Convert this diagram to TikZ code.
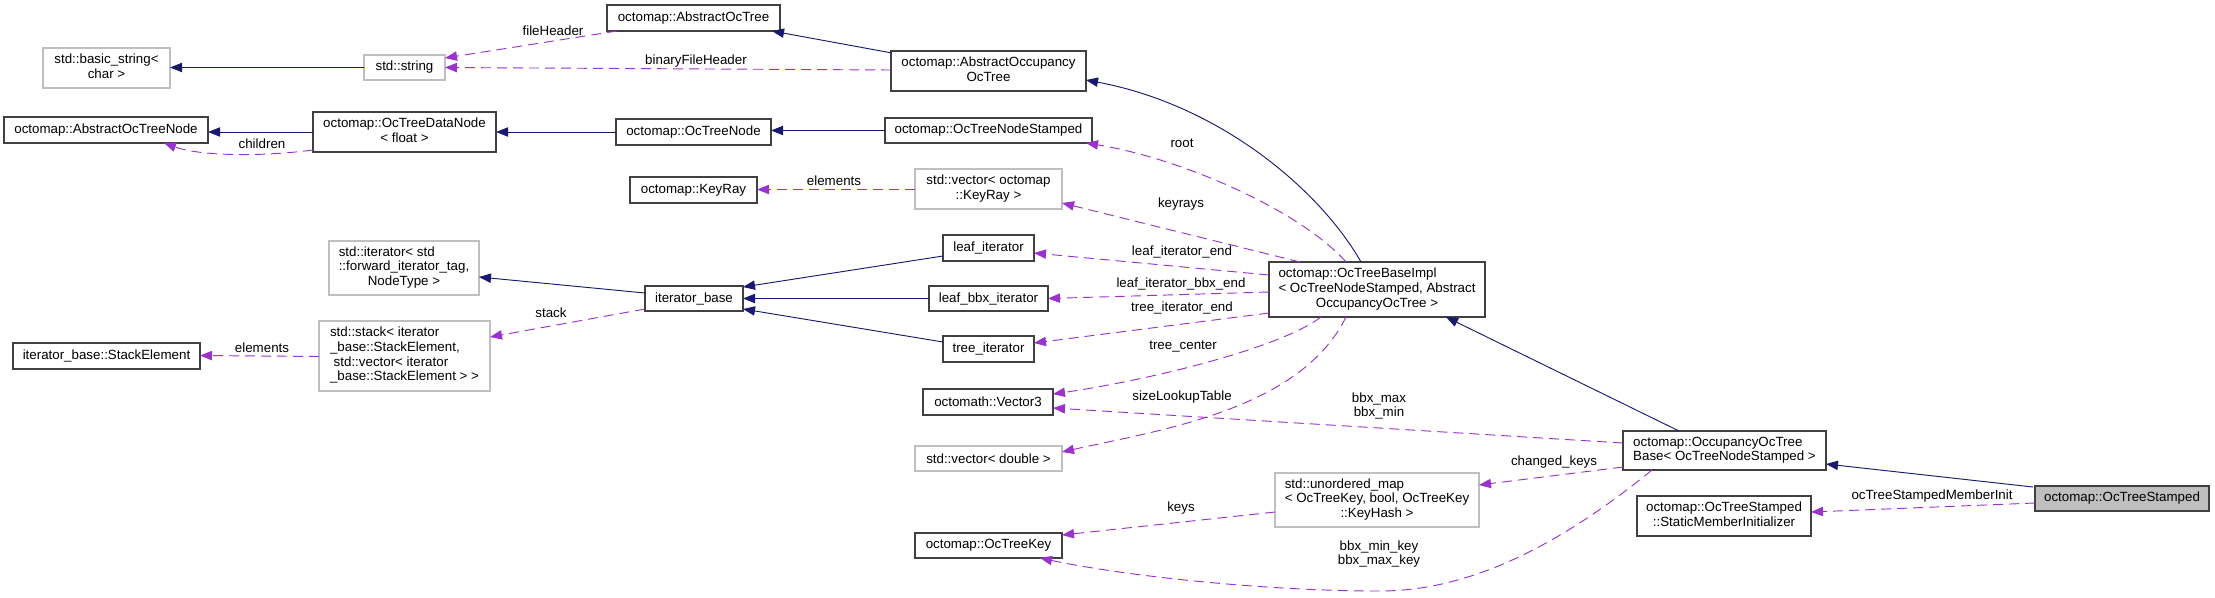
\documentclass[tikz,border=0pt]{standalone}
\usepackage{fontspec}
\setmainfont{Liberation Sans}
\usetikzlibrary{arrows.meta,calc}
\definecolor{edgeblue}{HTML}{191970}
\definecolor{edgeorchid}{HTML}{9A32CD}
\definecolor{boxdark}{HTML}{404040}
\definecolor{boxgray}{HTML}{BFBFBF}
\newcommand{\lc}[2]{\begin{tabular}{@{}l@{}}#1\\\multicolumn{1}{@{}c@{}}{#2}\end{tabular}}
\begin{document}
\begin{tikzpicture}[x=0.75pt,y=-0.75pt,
  every node/.style={font=\fontsize{10}{11}\selectfont, inner sep=0pt, outer sep=0pt},
  cls/.style n args={2}{draw=boxdark, line width=1pt, fill=white, minimum width={#1*0.75pt}, minimum height={#2*0.75pt}},
  ext/.style n args={2}{draw=boxgray, line width=1pt, fill=white, minimum width={#1*0.75pt}, minimum height={#2*0.75pt}},
  inh/.style={draw=edgeblue, line width=0.7pt, -{Triangle[length=9pt,width=7pt]}},
  mem/.style={draw=edgeorchid, line width=0.7pt, dash pattern=on 7.5pt off 4.5pt, -{Triangle[length=9pt,width=7pt]}},
  lbl/.style={align=center}
]
\useasboundingbox (0,0) rectangle (2215,597);

% nodes
\node[ext={127}{40}] (bstr) at (106.5,68) {\lc{std::basic\_string<}{char >}};
\node[ext={81}{25}] (str) at (404.5,67.5) {std::string};
\node[cls={173}{26}] (aot) at (693.5,18) {octomap::AbstractOcTree};
\node[cls={195}{40}] (aoot) at (988.5,71) {\lc{octomap::AbstractOccupancy}{OcTree}};
\node[cls={204}{26}] (aotn) at (106,130) {octomap::AbstractOcTreeNode};
\node[cls={183}{40}] (odn) at (404.5,132) {\lc{octomap::OcTreeDataNode}{< float >}};
\node[cls={155}{26}] (otn) at (693.5,132) {octomap::OcTreeNode};
\node[cls={207}{25}] (otns) at (988.5,130.5) {octomap::OcTreeNodeStamped};
\node[cls={127}{26}] (kr) at (693.5,190) {octomap::KeyRay};
\node[ext={147}{40}] (vkr) at (988.5,189) {\lc{std::vector< octomap}{::KeyRay >}};
\node[ext={150}{54}] (sit) at (404,268) {\lc{std::iterator< std\\::forward\_iterator\_tag,}{NodeType >}};
\node[cls={98}{25}] (ib) at (694,298.5) {iterator\_base};
\node[cls={91}{26}] (li) at (988.5,248) {leaf\_iterator};
\node[cls={119}{25}] (lbi) at (988.5,298.5) {leaf\_bbx\_iterator};
\node[cls={91}{26}] (ti) at (988.5,349) {tree\_iterator};
\node[cls={187}{26}] (se) at (106.5,356) {iterator\_base::StackElement};
\node[ext={171}{70}] (stk) at (404.5,356) {\lc{std::stack< iterator\\\_base::StackElement,\\\ std::vector< iterator}{\_base::StackElement > >}};
\node[cls={130}{26}] (v3) at (988,402) {octomath::Vector3};
\node[ext={147}{25}] (vd) at (988.5,458.5) {std::vector< double >};
\node[cls={147}{25}] (key) at (988.5,545.5) {octomap::OcTreeKey};
\node[ext={204}{54}] (um) at (1377,500) {\lc{std::unordered\_map\\< OcTreeKey, bool, OcTreeKey}{::KeyHash >}};
\node[cls={216}{55}] (obi) at (1377,289.5) {\lc{octomap::OcTreeBaseImpl\\< OcTreeNodeStamped, Abstract}{OccupancyOcTree >}};
\node[cls={203}{39}] (oob) at (1724.5,450.5) {\lc{octomap::OccupancyOcTree}{Base< OcTreeNodeStamped >}};
\node[cls={174}{40}] (smi) at (1724,516) {\lc{octomap::OcTreeStamped}{::StaticMemberInitializer}};
\node[cls={174}{25}, fill=boxgray] (ots) at (2122,498.5) {octomap::OcTreeStamped};

% inheritance edges
\draw[inh] (str.west) -- (str.west -| bstr.east);
\draw[inh] ($(aoot.north west)+(1,2)$) -- ($(aot.south east)+(-8,0)$);
\draw[inh] (odn.west) -- (odn.west -| aotn.east);
\draw[inh] (otn.west) -- (otn.west -| odn.east);
\draw[inh] (otns.west) -- (otns.west -| otn.east);
\draw[inh] ($(obi.north)+(-16,0)$) .. controls (1320,190) and (1220,105) .. ($(aoot.east)+(0,9)$);
\draw[inh] ($(ib.west)+(0,-5.5)$) -- ($(sit.east)+(0,9)$);
\draw[inh] ($(li.west)+(0,8)$) -- ($(ib.east)+(0,-11.5)$);
\draw[inh] (lbi.west) -- (ib.east);
\draw[inh] ($(ti.west)+(0,-7)$) -- ($(ib.east)+(0,10.5)$);
\draw[inh] ($(oob.north west)+(56,0)$) -- ($(obi.south)+(69,0)$);
\draw[inh] ($(ots.north west)+(-2,1)$) -- ($(oob.east)+(0,13.5)$);

% member edges
\draw[mem] ($(aot.south west)+(10,0)$) -- ($(str.east)+(0,-9.5)$);
\node[lbl] (l1) at (553,31) {fileHeader};
\draw[mem] ($(aoot.west)+(0,-1)$) -- (str.east);
\node[lbl] (l2) at (696,61) {binaryFileHeader};
\draw[mem] ($(odn.south west)+(0,-2)$) .. controls (260,157) and (200,156) .. ($(aotn.south east)+(-44,0)$);
\node[lbl] (l3) at (262,144) {children};
\draw[mem] ($(obi.north)+(-31,0)$) .. controls (1300,210) and (1180,158) .. ($(otns.south east)+(-6,0)$);
\node[lbl] (l4) at (1182,143) {root};
\draw[mem] ($(vkr.west)+(0,0.5)$) -- ($(kr.east)+(0,-0.5)$);
\node[lbl] (l5) at (834,181) {elements};
\draw[mem] ($(obi.north)+(-77,0)$) -- ($(vkr.east)+(0,14)$);
\node[lbl] (l6) at (1181,204) {keyrays};
\draw[mem] ($(obi.west)+(0,-14.5)$) -- ($(li.east)+(0,5)$);
\node[lbl] (l7) at (1182,252) {leaf\_iterator\_end};
\draw[mem] ($(obi.west)+(0,2.5)$) -- (lbi.east);
\node[lbl] (l8) at (1181,284) {leaf\_iterator\_bbx\_end};
\draw[mem] ($(obi.west)+(0,23.5)$) -- ($(ti.east)+(0,-6)$);
\node[lbl] (l9) at (1182,308) {tree\_iterator\_end};
\draw[mem] ($(ib.west)+(0,10.5)$) -- ($(stk.east)+(0,-19)$);
\node[lbl] (l10) at (551,313) {stack};
\draw[mem] ($(stk.west)+(0,0.5)$) -- ($(se.east)+(0,-0.5)$);
\node[lbl] (l11) at (262,348) {elements};
\draw[mem] ($(obi.south)+(-56,0)$) .. controls (1280,348) and (1150,380) .. ($(v3.east)+(0,-8)$);
\node[lbl] (l12) at (1183,347) {tree\_center};
\draw[mem] ($(obi.south)+(-31,0)$) .. controls (1300,410) and (1160,430) .. ($(vd.east)+(0,-6.5)$);
\node[lbl] (l13) at (1182,397) {sizeLookupTable};
\draw[mem] ($(oob.west)+(0,-7.5)$) -- ($(v3.east)+(0,6)$);
\node[lbl] (l14) at (1379,406) {bbx\_max\\bbx\_min};
\draw[mem] ($(oob.west)+(0,16.5)$) -- ($(um.east)+(0,-15)$);
\node[lbl] (l15) at (1554,462) {changed\_keys};
\draw[mem] ($(um.west)+(0,12)$) -- ($(key.east)+(0,-10.5)$);
\node[lbl] (l16) at (1181,508) {keys};
\coordinate (kbend) at (1380,591);
\draw[mem] ($(oob.south west)+(29,0)$) .. controls (1560,545) and (1470,591) .. (kbend) .. controls (1260,591) and (1120,575) .. ($(key.south east)+(-22,0)$);
\node[lbl] (l17) at (1379,554) {bbx\_min\_key\\bbx\_max\_key};
\draw[mem] ($(ots.west)+(0,4.5)$) -- ($(smi.east)+(0,-4)$);
\node[lbl] (l18) at (1932,496) {ocTreeStampedMemberInit};
\end{tikzpicture}
\end{document}
